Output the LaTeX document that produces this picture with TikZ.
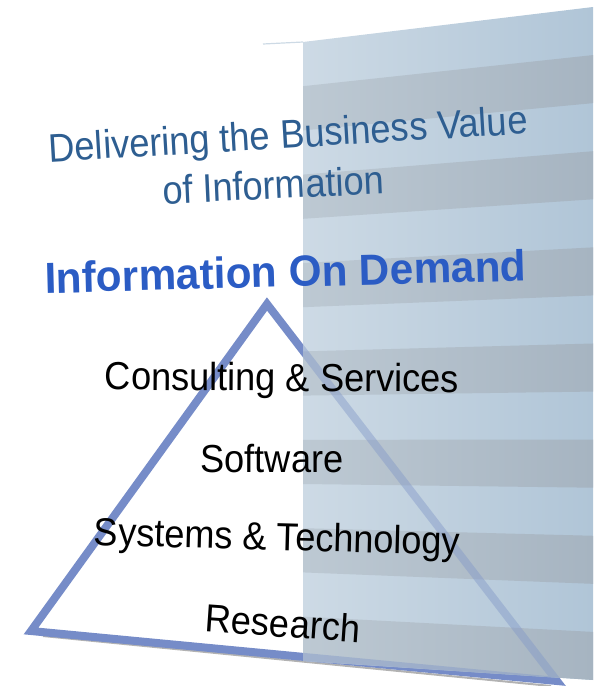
\documentclass[tikz,border=0pt]{standalone}
\usepackage{fontspec}
\usepackage{graphicx}
\setmainfont{Liberation Sans}
\usetikzlibrary{calc}

\definecolor{valueblue}{RGB}{46,94,145}
\definecolor{demandblue}{RGB}{43,92,196}
\definecolor{pyramidline}{RGB}{118,140,200}
\definecolor{pyramidglass}{RGB}{130,152,200}
\definecolor{lightbandL}{RGB}{205,218,229}
\definecolor{lightbandR}{RGB}{176,197,215}
\definecolor{darkbandL}{RGB}{189,201,211}
\definecolor{darkbandR}{RGB}{166,180,193}

\newcommand{\tall}[2]{\scalebox{1}[#1]{#2}}

\tikzset{
  headline/.style={text=valueblue, font=\fontsize{36.3}{40}\selectfont,
    anchor=base, inner sep=0pt},
  demandline/.style={text=demandblue, font=\bfseries\fontsize{42.3}{46}\selectfont,
    anchor=base, inner sep=0pt},
  tierlabel/.style={text=black, font=\fontsize{36.2}{40}\selectfont,
    anchor=base, inner sep=0pt},
}

\begin{document}
\begin{tikzpicture}[x=1pt, y=-1pt]
  \useasboundingbox (0,0) rectangle (597,686);

  % pyramid outline
  \coordinate (apex) at (267,304);
  \coordinate (baseL) at (31,631);
  \coordinate (baseR) at (557,681);
  \draw[black!60, line width=2pt, opacity=0.5]
    ($(baseL)+(12,5)$) -- ($(baseR)+(-6,5)$);
  \draw[pyramidline, line width=8pt, line join=miter] (apex) -- (baseL) -- (baseR) -- cycle;

  % striped panel
  \coordinate (panelTL) at (303,42);
  \coordinate (panelTR) at (593,7);
  \coordinate (panelBR) at (593,680);
  \coordinate (panelBL) at (303,661);
  \shade[left color=lightbandL, right color=lightbandR]
    (panelTL) -- (panelTR) -- (panelBR) -- (panelBL) -- cycle;
  \foreach \i in {1,3,...,13}
    \shade[left color=darkbandL, right color=darkbandR]
      (303,{42+44.2*\i}) -- (593,{7+48.07*\i}) -- (593,{7+48.07*(\i+1)})
      -- (303,{42+44.2*(\i+1)}) -- cycle;
  \draw[lightbandL, line width=1.2pt] (263,44) -- (panelTL);

  % pyramid seen through the panel
  \begin{scope}
    \clip (panelTL) -- (panelTR) -- (panelBR) -- (panelBL) -- cycle;
    \draw[pyramidglass, line width=8pt, opacity=0.45] (apex) -- (baseR) -- (baseL);
  \end{scope}

  % headings
  \node[headline, rotate=3.4] (valueline) at (289,148) {\tall{1.1}{Delivering the Business Value}};
  \node[headline, rotate=2.6] (infoline) at (274,199) {\tall{1.1}{of Information}};
  \node[demandline, rotate=1.5] (ondemand) at (286,287) {\tall{1.03}{Information On Demand}};

  % pyramid tiers
  \node[tierlabel, rotate=-0.4] (consulting) at (282,391) {\tall{1.08}{Consulting \& Services}};
  \node[tierlabel] (software) at (272,472) {\tall{1.08}{Software}};
  \node[tierlabel, rotate=-1.5] (systems) at (277,550) {\tall{1.08}{Systems \& Technology}};
  \node[tierlabel, rotate=-4] (research) at (282,637) {\tall{1.08}{Research}};
\end{tikzpicture}
\end{document}
